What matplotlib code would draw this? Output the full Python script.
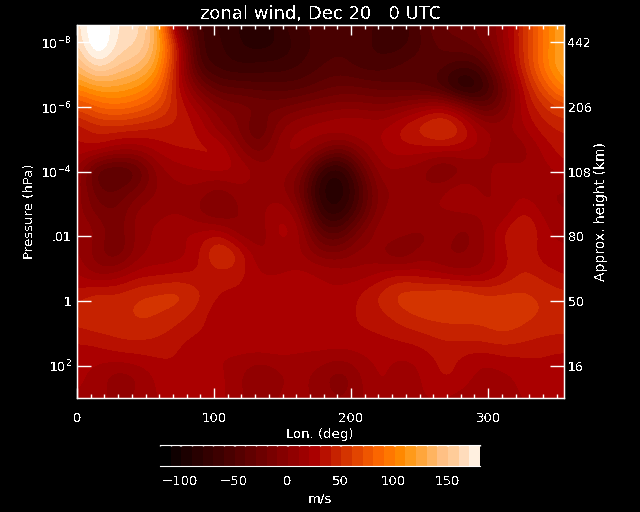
#!/usr/bin/python3
# -*- coding: utf-8 -*-
#
# viento zonal, lon vs presion, colores estilo IDL
#
import matplotlib
matplotlib.use('Agg')
import matplotlib.pyplot as plt
from matplotlib.colors import ListedColormap, BoundaryNorm
import numpy as np

# ejes
lon = np.linspace(0, 355, 25)
logp = np.linspace(-8.54, 3.0, 19)

# m/s, filas desde arriba (presion baja) hacia abajo
u00 = [160, 205, 165, 170, 130, -20, -60, -70, -80, -88, -75, -55, -60, -50, -50, -65, -70, -45, -25, -25, -15, 10, 50, 95, 125]
u01 = [155, 205, 165, 165, 130, 40, -65, -65, -80, -85, -80, -65, -55, -50, -55, -65, -65, -50, -35, -30, -20, 8, 52, 92, 128]
u02 = [135, 172, 150, 142, 118, 30, -55, -65, -70, -65, -65, -60, -50, -45, -55, -55, -45, -40, -45, -60, -50, 2, 50, 97, 128]
u03 = [105, 120, 120, 112, 90, 30, -15, -40, -40, -45, -45, -45, -35, -28, -30, -35, -40, -45, -60, -100, -75, -25, 35, 72, 108]
u04 = [60, 80, 88, 78, 66, 42, 18, -5, -10, -15, -20, -10, -5, 0, 0, -5, 5, 18, 32, 8, -35, -15, 28, 48, 62]
u05 = [32, 45, 45, 42, 38, 38, 32, 2, -10, -40, 2, 15, 22, 26, 26, 20, 38, 52, 66, 48, 16, 10, 20, 38, 42]
u06 = [28, 34, 16, 16, 26, 32, 34, 40, 2, -20, 12, 18, -2, -25, 2, 22, 28, 26, 28, 24, 18, -5, 3, 24, 38]
u07 = [16, -45, -50, -40, 8, 16, 20, 26, 26, 8, 6, -2, -70, -85, -30, 13, 8, 3, -25, -4, 3, 23, 13, 16, 28]
u08 = [13, -30, -30, -14, 3, 8, 8, -8, 8, 3, 6, -20, -85, -95, -50, 3, -2, 3, 13, 28, 5, 16, 18, 10, 8]
u09 = [8, -15, -20, 8, 8, 10, -2, -20, 3, 8, 23, 3, -75, -80, -40, 3, 8, 18, 8, 13, 16, 6, 36, 16, 10]
u10 = [13, 3, -20, 8, 13, 23, 23, 30, -2, -2, 33, 18, -40, -45, -8, 13, 8, -8, 13, -8, 8, 33, 52, 23, 18]
u11 = [13, -8, -25, 8, 13, 13, 28, 66, 45, 8, 13, 13, -8, -8, 8, -2, -20, 8, -2, -2, 8, 28, 40, 23, 23]
u12 = [23, 3, 13, 26, 26, 30, 30, 36, 36, 20, 20, 26, 23, 18, 13, 23, 33, 23, 18, 8, 13, 28, 44, 36, 28]
u13 = [34, 48, 44, 52, 56, 60, 46, 30, 28, 28, 30, 28, 22, 22, 34, 47, 60, 60, 66, 68, 56, 54, 54, 50, 44]
u14 = [48, 55, 47, 55, 52, 45, 36, 20, 28, 28, 30, 32, 28, 28, 32, 38, 48, 55, 56, 55, 54, 60, 56, 50, 50]
u15 = [35, 38, 45, 45, 42, 35, 30, 30, 30, 30, 30, 30, 30, 30, 30, 30, 35, 38, 44, 46, 48, 52, 46, 42, 40]
u16 = [24, 24, 28, 30, 32, 30, 18, 20, 20, 20, 22, 18, 18, 15, 20, 24, 20, 25, 34, 28, 24, 30, 30, 28, 28]
u17 = [24, 17, 0, 8, 24, 32, 32, 24, 14, -10, 8, 15, 4, -12, 10, 26, 12, 20, 36, 30, 14, 17, 24, 35, 24]
u18 = [20, 18, 5, 15, 22, 22, 22, 25, 15, 2, 15, 15, 8, 0, 10, 20, 20, 20, 20, 15, 8, 15, 22, 20, 20]
wind = np.array([u00, u01, u02, u03, u04, u05, u06, u07, u08, u09,
                 u10, u11, u12, u13, u14, u15, u16, u17, u18], dtype=float)

# niveles de la barra de color
levels = np.arange(-119, 182, 10)
band_colors = ['#000000', '#0f0000', '#1c0000', '#280000', '#330000', '#3d0000',
               '#490000', '#550000', '#610000', '#6d0000', '#790000', '#850000',
               '#910000', '#9d0000', '#aa0000', '#b81000', '#c62200', '#d43400',
               '#e24500', '#ef5600', '#fb6600', '#ff7700', '#ff8800', '#ff9a1a',
               '#ffa63c', '#ffb460', '#ffc084', '#ffcc99', '#ffdcbc', '#fff0e0']

ptick_pos = [-8, -6, -4, -2, 0, 2]
ptick_lab = ['10$^{-8}$', '10$^{-6}$', '10$^{-4}$', '.01', '1', '10$^{2}$']
ztick_lab = ['442', '206', '108', '80', '50', '16']
cbar_ticks = [-100, -50, 0, 50, 100, 150]

plt.rcParams['font.family'] = 'DejaVu Sans'
plt.rcParams['mathtext.default'] = 'regular'
plt.rcParams['text.antialiased'] = False

W, H = 640, 512
fig = plt.figure(figsize=(W/100, H/100), dpi=100, facecolor='black')


def caja(x0, y0, x1, y1):
    # caja en pixeles, con origen arriba a la izquierda
    return fig.add_axes([x0/W, 1 - y1/H, (x1 - x0)/W, (y1 - y0)/H], facecolor='black')


cmap = ListedColormap(band_colors)
cmap.set_over('white')
cmap.set_under('black')
norm = BoundaryNorm(levels, cmap.N)

ax = caja(77, 25, 563.5, 398)
dx = (lon[1] - lon[0])/2
dy = (logp[1] - logp[0])/2
# bicubic sobre los datos, los colores quedan en bandas
ax.imshow(wind, cmap=cmap, norm=norm, interpolation='bicubic', interpolation_stage='data',
          extent=[lon[0] - dx, lon[-1] + dx, logp[-1] + dy, logp[0] - dy], aspect='auto')
ax.set_xlim(0, 355)
ax.set_ylim(3.0, -8.54)
for s in ax.spines.values():
    s.set_color('white')
    s.set_linewidth(1)

ax.set_xticks([0, 100, 200, 300])
ax.set_xticks(np.arange(0, 355, 10), minor=True)
ax.tick_params(axis='x', which='major', direction='in', length=7, width=1, color='white',
               labelcolor='white', labelsize=9.5, pad=10, top=True)
ax.tick_params(axis='x', which='minor', direction='in', length=3, width=1, color='white', top=True)
ax.set_yticks(ptick_pos)
ax.set_yticklabels(ptick_lab)
ax.tick_params(axis='y', direction='in', length=10, width=1, color='white',
               labelcolor='white', labelsize=9, pad=4)
ax.set_xlabel('Lon. (deg)', color='white', fontsize=9.5, labelpad=2)
ax.set_ylabel('Pressure (hPa)', color='white', fontsize=9.5)
ax.yaxis.set_label_coords(-0.085, 0.5)
ax.set_title('zonal wind, Dec 20   0 UTC', color='white', fontsize=13, pad=4)

ax2 = ax.twinx()
ax2.set_ylim(3.0, -8.54)
ax2.set_yticks(ptick_pos)
ax2.set_yticklabels(ztick_lab)
ax2.tick_params(axis='y', direction='in', length=10, width=1, color='white',
                labelcolor='white', labelsize=9, pad=3)
ax2.set_ylabel('Approx. height (km)', color='white', fontsize=10, labelpad=2)
for s in ax2.spines.values():
    s.set_color('white')

# barra de color
cax = caja(160, 445, 480, 465.5)
cax.pcolormesh(levels, [0, 1], np.array([(levels[:-1] + levels[1:])/2]), cmap=cmap, norm=norm)
cax.set_xlim(levels[0], levels[-1])
cax.set_yticks([])
cax.set_xticks(cbar_ticks)
cax.set_xticks(levels, minor=True)
cax.tick_params(axis='x', which='major', direction='in', length=1, width=1, color='white',
                labelcolor='white', labelsize=9.5, pad=7, top=True, bottom=False)
cax.tick_params(axis='x', which='minor', direction='in', length=1, width=1, color='white',
                top=True, bottom=False)
cax.set_xlabel('m/s', color='white', fontsize=9.5, labelpad=3)
cax.spines['left'].set_visible(False)
cax.spines['right'].set_visible(False)
cax.spines['top'].set_color('white')
cax.spines['bottom'].set_color('white')

plt.savefig('out.png', dpi=100, facecolor='black')
